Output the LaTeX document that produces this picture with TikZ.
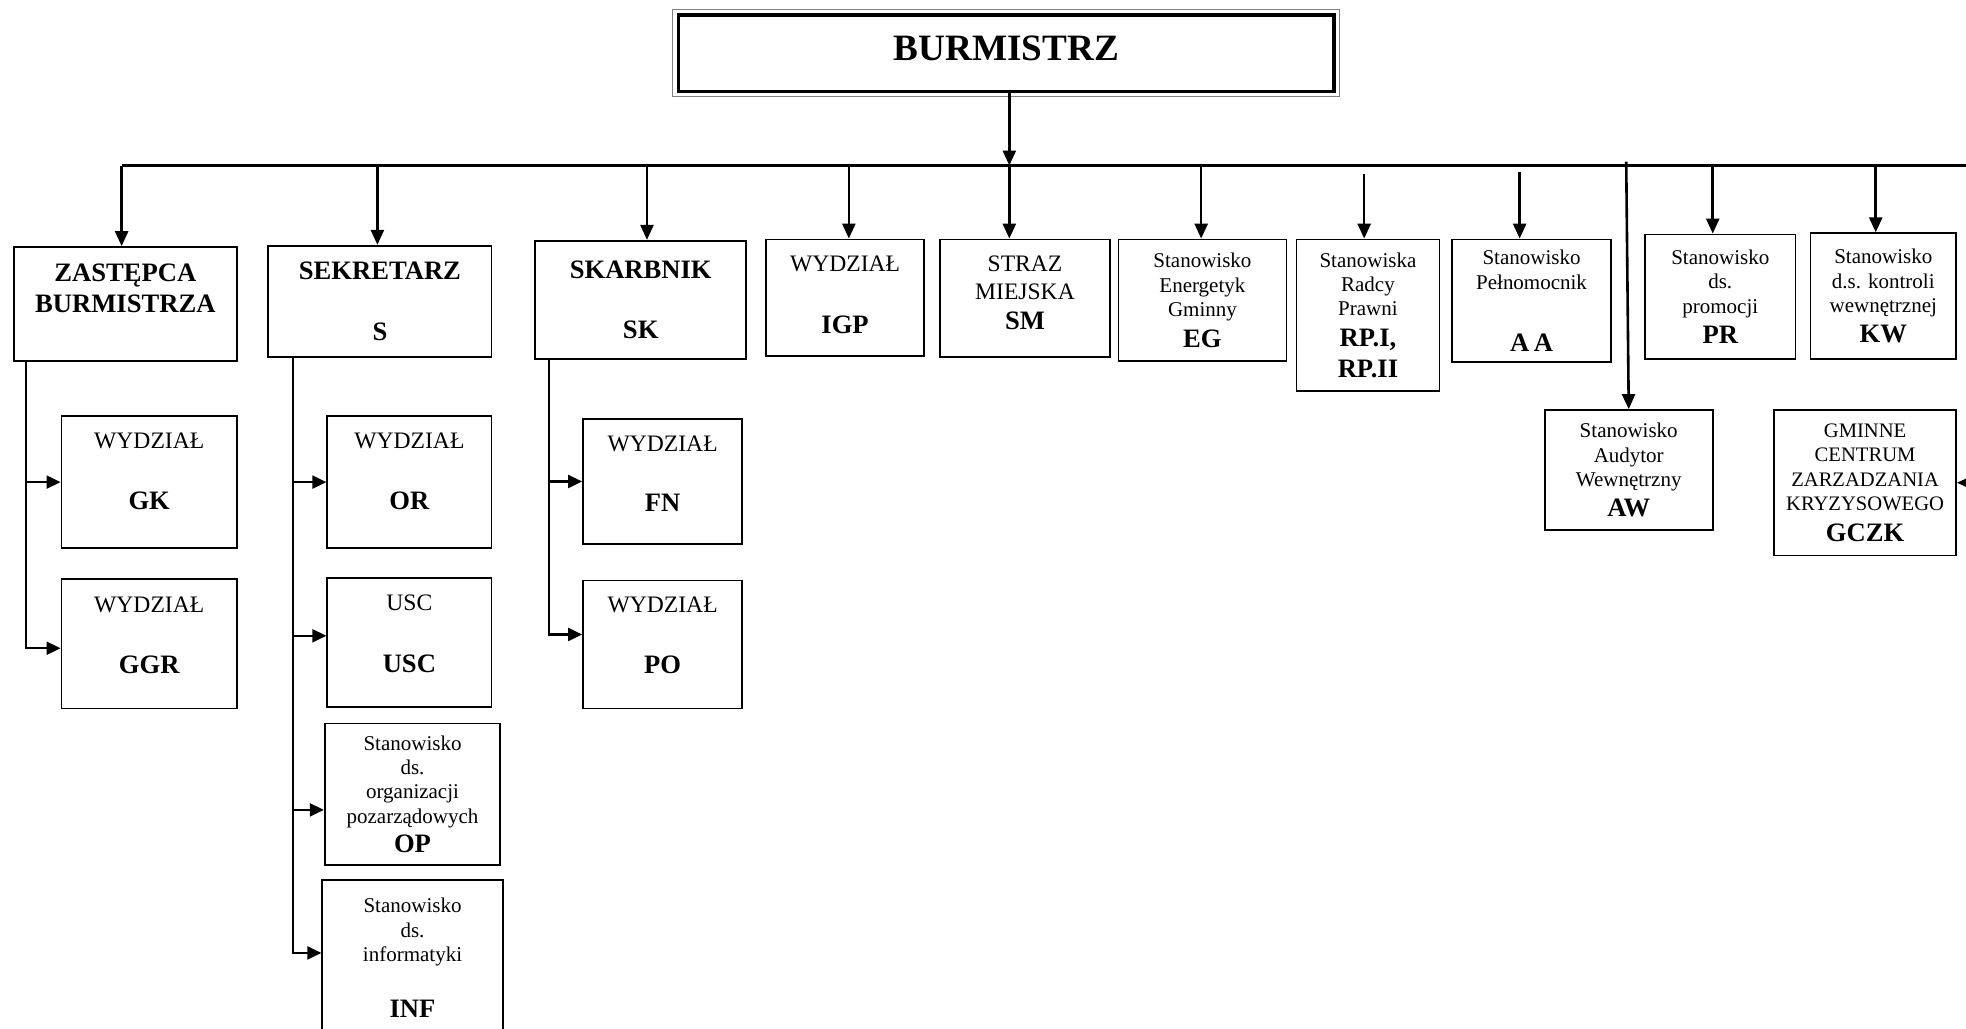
\documentclass[tikz,border=0pt]{standalone}
\usepackage{fontspec}
\setmainfont{Liberation Serif}
\usetikzlibrary{arrows.meta}
\newcommand{\kod}[1]{{\fontsize{13.3}{15}\selectfont\bfseries #1}}
\newcommand{\lowpad}[1]{\rule[-#1]{0pt}{#1}}
\begin{document}
\begin{tikzpicture}[
  x=0.627pt, y=-0.627pt,
  box/.style={rectangle, draw, line width=0.9pt, inner sep=0pt, align=center, font=\fontsize{10.5}{12.2}\selectfont},
  capsbox/.style={box, font=\fontsize{11.8}{13.8}\selectfont},
  sz/.style 2 args={minimum width=#1*0.627pt, minimum height=#2*0.627pt},
  arrow/.style={-{Triangle[length=7.5pt,width=6.5pt]}, line width=1.3pt},
  subarrow/.style={-{Triangle[length=7pt,width=6.5pt]}, line width=1.1pt},
  bus/.style={line width=1.3pt}
]
\path[use as bounding box, fill=white] (0,0) rectangle (1568,820);
\node[box, sz={523}{61}, line width=1.6pt, font=\fontsize{18.6}{22}\selectfont\bfseries] (burm) at (802.5,42.5) {\lowpad{5.6pt}BURMISTRZ};
\draw[gray, line width=0.5pt] ([shift={(-3,-3)}]burm.north west) rectangle ([shift={(3,3)}]burm.south east);
\node[box, sz={178}{91}] (zast) at (100,242.5) {\kod{ZASTĘPCA}\\[3.5pt]\kod{BURMISTRZA}\lowpad{16pt}};
\node[box, sz={178}{89}] (sekr) at (303,240.5) {\kod{SEKRETARZ}\\[18.5pt]\kod{S}};
\node[box, sz={168}{94}] (skarb) at (511,239) {\kod{SKARBNIK}\\[17.9pt]\kod{SK}};
\node[capsbox, sz={126}{93}] (igp) at (674,237.5) {WYDZIAŁ\\[16.8pt]\kod{IGP}\lowpad{3pt}};
\node[capsbox, sz={135}{94}] (sm) at (817.5,238) {STRAZ\\MIEJSKA\\[1.1pt]\kod{SM}\lowpad{5.6pt}};
\node[box, sz={134}{97}] (eg) at (959,239.5) {Stanowisko\\Energetyk\\Gminny\\[3.2pt]\kod{EG}};
\node[box, sz={114}{121}] (rp) at (1091,251.5) {Stanowiska\\Radcy\\Prawni\\[3pt]\kod{RP.I,}\\[3.5pt]\kod{RP.II}};
\node[box, sz={127}{98}] (aa) at (1221.5,240) {Stanowisko\\Pełnomocnik\\[18.9pt]\kod{A\,A}};
\node[box, sz={134}{96}] (aw) at (1299,375) {Stanowisko\\Audytor\\Wewnętrzny\\[3pt]\kod{AW}};
\node[box, sz={120}{99}] (pr) at (1372,236.5) {Stanowisko\\ds.\\promocji\\[3pt]\kod{PR}};
\node[box, sz={116}{100}] (kw) at (1502,236) {Stanowisko\\d.s. kontroli\\wewnętrznej\\[2.5pt]\kod{KW}};
\node[box, sz={145}{116}, font=\fontsize{10.3}{12.2}\selectfont] (gczk) at (1487.5,385) {GMINNE\\CENTRUM\\ZARZADZANIA\\KRYZYSOWEGO\\[3.2pt]\kod{GCZK}};
\node[capsbox, sz={140}{105}] (gk) at (119,384.5) {WYDZIAŁ\\[16.9pt]\kod{GK}\lowpad{10.7pt}};
\node[capsbox, sz={140}{103}] (ggr) at (119,513.5) {WYDZIAŁ\\[16.9pt]\kod{GGR}\lowpad{8.8pt}};
\node[capsbox, sz={131}{105}] (wor) at (326.5,384.5) {WYDZIAŁ\\[16.9pt]\kod{OR}\lowpad{10.7pt}};
\node[capsbox, sz={131}{103}] (usc) at (326.5,512.5) {USC\\[16.9pt]\kod{USC}\lowpad{8.8pt}};
\node[box, sz={140}{113}] (op) at (329,633.5) {Stanowisko\\ds.\\organizacji\\pozarządowych\\[2.6pt]\kod{OP}};
\node[box, sz={144}{124}] (inf) at (329,764) {Stanowisko\\ds.\\informatyki\\[15.7pt]\kod{INF}};
\node[capsbox, sz={127}{100}] (fn) at (528.5,384) {WYDZIAŁ\\[16.3pt]\kod{FN}\lowpad{7.5pt}};
\node[capsbox, sz={127}{102}] (po) at (528.5,514) {WYDZIAŁ\\[16.9pt]\kod{PO}\lowpad{9.4pt}};
\coordinate (dZ) at (97,132);
\coordinate (dS) at (301,132);
\coordinate (dSK) at (516,132);
\coordinate (dIGP) at (677,132);
\coordinate (dB) at (805,132);
\coordinate (dEG) at (958,132);
\coordinate (dRP) at (1088,139);
\coordinate (dAA) at (1212,137);
\coordinate (dAW) at (1297,129);
\coordinate (dPR) at (1366,132);
\coordinate (dKW) at (1496,132);
\coordinate (busR) at (1600,132);
\coordinate (zv) at (21,288);
\coordinate (sv) at (234,285);
\coordinate (kv) at (438,286);
\coordinate (ggrIn) at ([yshift=-2.2pt]ggr.west);
\coordinate (uscIn) at ([yshift=3.4pt]usc.west);
\coordinate (opIn) at ([yshift=-7.8pt]op.west);
\coordinate (infIn) at ([yshift=2.5pt]inf.west);
\coordinate (poIn) at ([yshift=5pt]po.west);
\draw[bus] (dZ) -- (busR);
\draw[arrow] (burm.south -| dB) -- (dB);
\draw[arrow] (dZ) -- (dZ |- zast.north);
\draw[arrow] (dS) -- (dS |- sekr.north);
\draw[arrow] (dSK) -- (dSK |- skarb.north);
\draw[arrow] (dIGP) -- (dIGP |- igp.north);
\draw[arrow] (dB) -- (dB |- sm.north);
\draw[arrow] (dEG) -- (dEG |- eg.north);
\draw[arrow] (dRP) -- (dRP |- rp.north);
\draw[arrow] (dAA) -- (dAA |- aa.north);
\draw[arrow] (dAW) -- (aw.north);
\draw[arrow] (dPR) -- (dPR |- pr.north);
\draw[arrow] (dKW) -- (dKW |- kw.north);
\draw[arrow] (busR) |- (gczk.east);
\draw[subarrow] (zv |- gk.west) -- (gk.west);
\draw[subarrow] (zv) |- (ggrIn);
\draw[subarrow] (sv |- wor.west) -- (wor.west);
\draw[subarrow] (sv |- uscIn) -- (uscIn);
\draw[subarrow] (sv |- opIn) -- (opIn);
\draw[subarrow] (sv) |- (infIn);
\draw[subarrow] (kv |- fn.west) -- (fn.west);
\draw[subarrow] (kv) |- (poIn);
\end{tikzpicture}
\end{document}
